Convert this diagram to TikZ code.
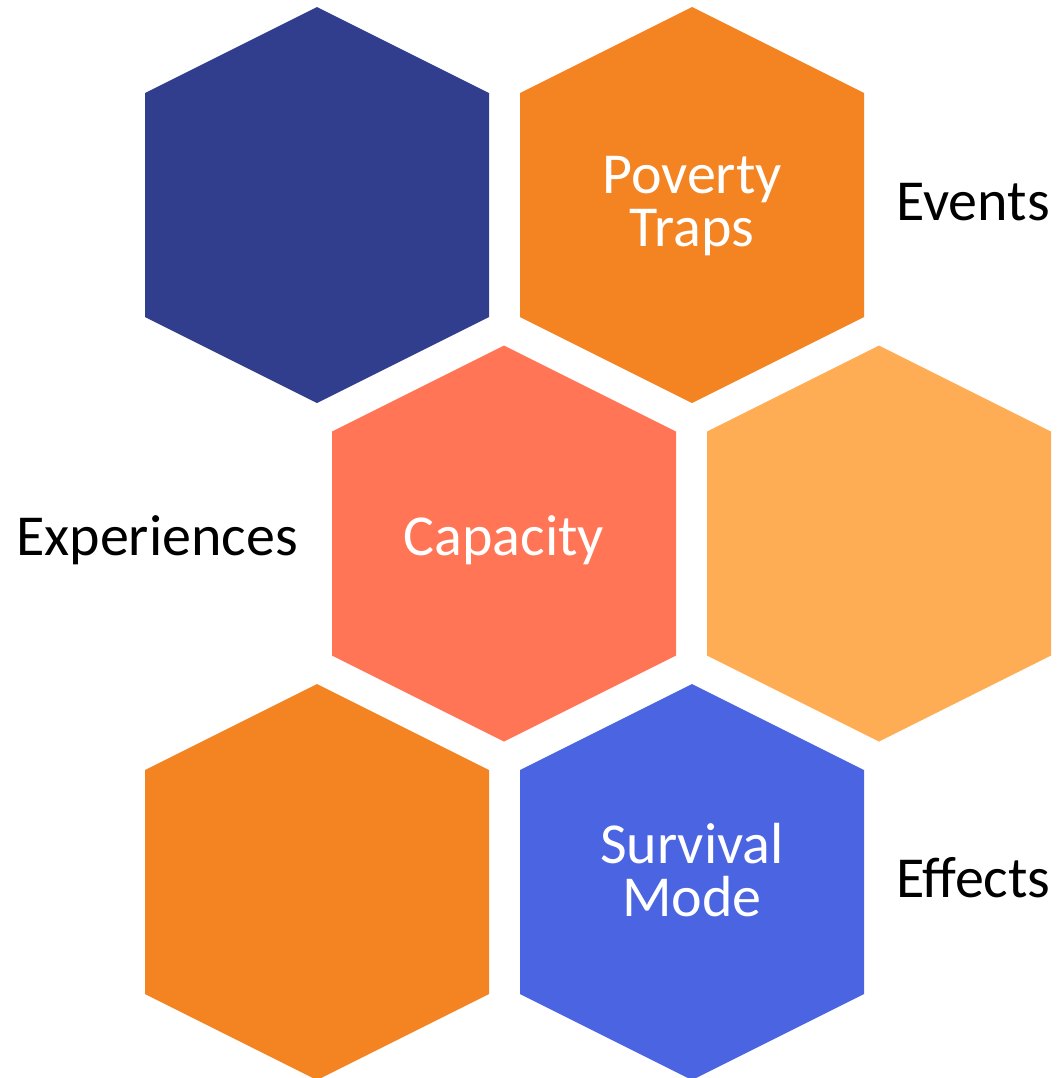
\documentclass[tikz,border=0pt]{standalone}
\usepackage{fontspec}
\setmainfont{Carlito}
\definecolor{navy}{HTML}{303E8D}
\definecolor{hexorange}{HTML}{F48322}
\definecolor{coral}{HTML}{FF7555}
\definecolor{peach}{HTML}{FFAD55}
\definecolor{royal}{HTML}{4B64E1}
\tikzset{
  hexfill/.style={fill=#1, draw=none},
  hexlabel/.style={text=white, align=center, inner sep=0pt, font=\fontsize{58bp}{53bp}\selectfont},
  sidelabel/.style={text=black, inner sep=0pt, font=\fontsize{58bp}{53bp}\selectfont},
}
% pointy-top hexagon centred at (#1,#2), half width 172, circumradius 198
\newcommand{\hexat}[3]{%
  \path[hexfill=#3] (#1,#2) ++(0,-198) -- ++(172,86) -- ++(0,224)
    -- ++(-172,86) -- ++(-172,-86) -- ++(0,-224) -- cycle;}
\begin{document}
\begin{tikzpicture}[x=1bp,y=-1bp]
\useasboundingbox (0,0) rectangle (1057,1078);
\begin{scope}
  \clip (0,0) rectangle (1057,1078);
  \hexat{317}{205}{navy}
  \hexat{692}{205}{hexorange}
  \hexat{504}{543.5}{coral}
  \hexat{879}{543.5}{peach}
  \hexat{317}{882}{hexorange}
  \hexat{692}{882}{royal}
\end{scope}
\node[hexlabel] (poverty) at (692,206) {Poverty\\Traps};
\node[hexlabel, anchor=base] (capacity) at (504,555) {Capacity};
\node[hexlabel] (survival) at (692,870) {Survival\\Mode};
\node[sidelabel, anchor=base west] (events) at (896,220) {Events};
\node[sidelabel, anchor=base west] (experiences) at (16,555) {Experiences};
\node[sidelabel, anchor=base west] (effects) at (896,897) {Effects};
\end{tikzpicture}
\end{document}
